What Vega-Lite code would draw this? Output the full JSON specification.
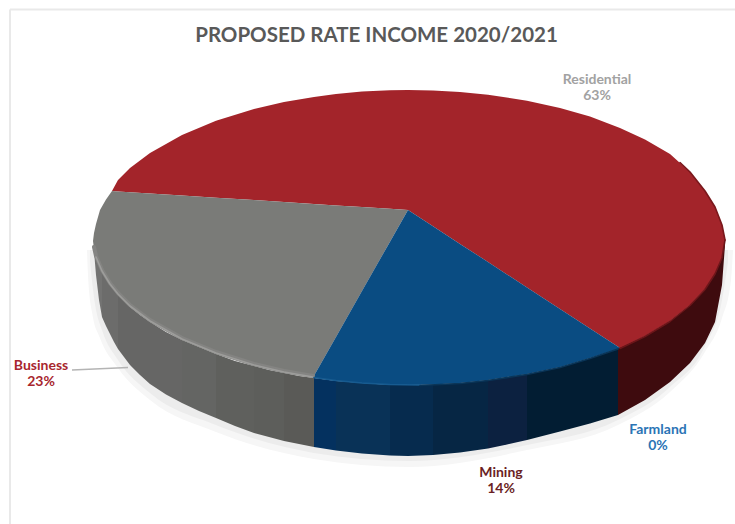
{
"$schema":"https://vega.github.io/schema/vega-lite/v6.json",
"width":735,"height":524,"padding":0,"autosize":"none","background":"white",
"title":{"text":"PROPOSED RATE INCOME 2020/2021","anchor":"middle","orient":"top","offset":-46,"font":"Lato","fontSize":20.5,"fontWeight":700,"color":"#595959","dx":9},
"config":{"view":{"stroke":null}},
"datasets":{
"frame":[
{"part":"Frame","x":10,"top":9.5,"x2":735,"bottom":9.5},
{"part":"Frame","x":10,"top":9.5,"x2":10,"bottom":524}],
"leader":[{"part":"Leader","x":72,"top":370,"x2":128,"bottom":367.5}],
"shadow":[
{"part":"Shadow outer","x":87,"top":250,"bottom":250},{"part":"Shadow outer","x":88,"top":250,"bottom":275},{"part":"Shadow outer","x":92,"top":250,"bottom":312},{"part":"Shadow outer","x":100,"top":250,"bottom":338},{"part":"Shadow outer","x":118,"top":250,"bottom":368},{"part":"Shadow outer","x":150,"top":250,"bottom":400},{"part":"Shadow outer","x":216,"top":250,"bottom":432},{"part":"Shadow outer","x":314,"top":250,"bottom":459},{"part":"Shadow outer","x":409,"top":250,"bottom":467},{"part":"Shadow outer","x":527,"top":250,"bottom":450},{"part":"Shadow outer","x":618,"top":250,"bottom":425},{"part":"Shadow outer","x":670,"top":250,"bottom":392},{"part":"Shadow outer","x":705,"top":250,"bottom":352},{"part":"Shadow outer","x":722,"top":250,"bottom":318},{"part":"Shadow outer","x":731,"top":250,"bottom":280},{"part":"Shadow outer","x":733,"top":250,"bottom":250},
{"part":"Shadow inner","x":90,"top":250,"bottom":262},{"part":"Shadow inner","x":95,"top":250,"bottom":304},{"part":"Shadow inner","x":102,"top":250,"bottom":330},{"part":"Shadow inner","x":118,"top":250,"bottom":360},{"part":"Shadow inner","x":150,"top":250,"bottom":393},{"part":"Shadow inner","x":216,"top":250,"bottom":425},{"part":"Shadow inner","x":314,"top":250,"bottom":453},{"part":"Shadow inner","x":409,"top":250,"bottom":461},{"part":"Shadow inner","x":527,"top":250,"bottom":445},{"part":"Shadow inner","x":618,"top":250,"bottom":420},{"part":"Shadow inner","x":670,"top":250,"bottom":387},{"part":"Shadow inner","x":705,"top":250,"bottom":346},{"part":"Shadow inner","x":722,"top":250,"bottom":300},{"part":"Shadow inner","x":728,"top":250,"bottom":262}],
"sides":[
{"part":"Business side 1","x":94,"top":245,"bottom":251},{"part":"Business side 1","x":96,"top":258,"bottom":275},{"part":"Business side 1","x":99,"top":266,"bottom":300},{"part":"Business side 1","x":102,"top":270,"bottom":317},
{"part":"Business side 2","x":102,"top":270,"bottom":317},{"part":"Business side 2","x":106,"top":278,"bottom":326},{"part":"Business side 2","x":110,"top":285,"bottom":334},{"part":"Business side 2","x":114,"top":290,"bottom":342},{"part":"Business side 2","x":118,"top":295,"bottom":349},
{"part":"Business side 3","x":118,"top":295,"bottom":349},{"part":"Business side 3","x":124,"top":301,"bottom":357},{"part":"Business side 3","x":130,"top":307,"bottom":365},{"part":"Business side 3","x":140,"top":315,"bottom":375},{"part":"Business side 3","x":150,"top":322,"bottom":384},{"part":"Business side 3","x":166,"top":332,"bottom":394.5},{"part":"Business side 3","x":182,"top":340,"bottom":403},
{"part":"Business side 4","x":182,"top":340,"bottom":403},{"part":"Business side 4","x":199,"top":347,"bottom":411},{"part":"Business side 4","x":216,"top":354,"bottom":418},
{"part":"Business side 5","x":216,"top":354,"bottom":418},{"part":"Business side 5","x":235,"top":361,"bottom":426},{"part":"Business side 5","x":254,"top":366,"bottom":433},
{"part":"Business side 6","x":254,"top":366,"bottom":433},{"part":"Business side 6","x":269,"top":370,"bottom":437},{"part":"Business side 6","x":284,"top":373,"bottom":441},
{"part":"Business side 7","x":284,"top":373,"bottom":441},{"part":"Business side 7","x":299,"top":376,"bottom":444},{"part":"Business side 7","x":314,"top":378,"bottom":447},
{"part":"Mining side 1","x":314,"top":378,"bottom":447},{"part":"Mining side 1","x":336,"top":381,"bottom":450.5},
{"part":"Mining side 2","x":336,"top":381,"bottom":450.5},{"part":"Mining side 2","x":362,"top":383,"bottom":453.5},{"part":"Mining side 2","x":390,"top":385,"bottom":455.5},
{"part":"Mining side 3","x":390,"top":385,"bottom":455.5},{"part":"Mining side 3","x":408,"top":385,"bottom":456},{"part":"Mining side 3","x":433,"top":384.5,"bottom":455},
{"part":"Mining side 4","x":433,"top":384.5,"bottom":455},{"part":"Mining side 4","x":460,"top":383,"bottom":452.5},{"part":"Mining side 4","x":488,"top":380,"bottom":448.5},
{"part":"Mining side 5","x":488,"top":380,"bottom":448.5},{"part":"Mining side 5","x":507,"top":377,"bottom":444.5},{"part":"Mining side 5","x":527,"top":374,"bottom":440},
{"part":"Mining side 6","x":527,"top":374,"bottom":440},{"part":"Mining side 6","x":560,"top":367,"bottom":431.5},{"part":"Mining side 6","x":590,"top":358,"bottom":423.5},{"part":"Mining side 6","x":618,"top":348,"bottom":415},
{"part":"Residential side","x":618,"top":348,"bottom":415},{"part":"Residential side","x":645,"top":336,"bottom":400},{"part":"Residential side","x":670,"top":321,"bottom":382},{"part":"Residential side","x":690,"top":305,"bottom":363},{"part":"Residential side","x":705,"top":289,"bottom":343},{"part":"Residential side","x":715,"top":274,"bottom":322},{"part":"Residential side","x":722,"top":258,"bottom":285},{"part":"Residential side","x":725,"top":240,"bottom":245}],
"slices":[
{"part":"Residential","x":112,"top":191,"bottom":191},{"part":"Residential","x":118,"top":180,"bottom":191.4},{"part":"Residential","x":130,"top":168,"bottom":192.2},{"part":"Residential","x":150,"top":153,"bottom":193.4},{"part":"Residential","x":182,"top":135,"bottom":195.5},{"part":"Residential","x":216,"top":120.7,"bottom":197.7},{"part":"Residential","x":254,"top":109,"bottom":200},{"part":"Residential","x":284,"top":102,"bottom":202},{"part":"Residential","x":314,"top":97,"bottom":204},{"part":"Residential","x":336,"top":94,"bottom":205.4},{"part":"Residential","x":362,"top":91.6,"bottom":207},{"part":"Residential","x":390,"top":90.3,"bottom":208.8},{"part":"Residential","x":408,"top":90,"bottom":210},{"part":"Residential","x":433,"top":90.5,"bottom":226.3},{"part":"Residential","x":460,"top":92,"bottom":243.9},{"part":"Residential","x":488,"top":94.7,"bottom":262},{"part":"Residential","x":527,"top":100.7,"bottom":287.5},{"part":"Residential","x":560,"top":108,"bottom":309},{"part":"Residential","x":590,"top":116.6,"bottom":328.5},{"part":"Residential","x":620,"top":128,"bottom":348},{"part":"Residential","x":645,"top":139.4,"bottom":336},{"part":"Residential","x":670,"top":154,"bottom":321},{"part":"Residential","x":690,"top":172,"bottom":305},{"part":"Residential","x":705,"top":191,"bottom":289},{"part":"Residential","x":715,"top":207,"bottom":274},{"part":"Residential","x":722,"top":225,"bottom":258},{"part":"Residential","x":725,"top":240,"bottom":240},
{"part":"Business","x":93,"top":241,"bottom":241},{"part":"Business","x":94,"top":233,"bottom":249},{"part":"Business","x":96,"top":224,"bottom":258},{"part":"Business","x":100,"top":210,"bottom":268},{"part":"Business","x":106,"top":199.5,"bottom":279},{"part":"Business","x":112,"top":191,"bottom":288},{"part":"Business","x":118,"top":191.4,"bottom":295},{"part":"Business","x":130,"top":192.2,"bottom":307},{"part":"Business","x":150,"top":193.4,"bottom":322},{"part":"Business","x":182,"top":195.5,"bottom":340},{"part":"Business","x":216,"top":197.7,"bottom":354},{"part":"Business","x":254,"top":200,"bottom":366},{"part":"Business","x":284,"top":202,"bottom":373},{"part":"Business","x":313,"top":204,"bottom":377.5},{"part":"Business","x":336,"top":205.4,"bottom":337},{"part":"Business","x":362,"top":207,"bottom":291},{"part":"Business","x":390,"top":208.8,"bottom":241.7},{"part":"Business","x":408,"top":210,"bottom":210},
{"part":"Mining","x":313,"top":377.5,"bottom":377.5},{"part":"Mining","x":336,"top":337,"bottom":381},{"part":"Mining","x":362,"top":291,"bottom":383},{"part":"Mining","x":390,"top":241.7,"bottom":385},{"part":"Mining","x":408,"top":210,"bottom":385},{"part":"Mining","x":433,"top":226.3,"bottom":384.5},{"part":"Mining","x":460,"top":243.9,"bottom":383},{"part":"Mining","x":488,"top":262,"bottom":380},{"part":"Mining","x":527,"top":287.5,"bottom":374},{"part":"Mining","x":560,"top":309,"bottom":367},{"part":"Mining","x":590,"top":328.5,"bottom":358},{"part":"Mining","x":620,"top":348,"bottom":348}],
"bevel":[
{"part":"Business bevel","x":94,"top":247},{"part":"Business bevel","x":96,"top":256},{"part":"Business bevel","x":102,"top":270},{"part":"Business bevel","x":110,"top":283},{"part":"Business bevel","x":118,"top":293},{"part":"Business bevel","x":130,"top":305},{"part":"Business bevel","x":150,"top":320},{"part":"Business bevel","x":182,"top":338},{"part":"Business bevel","x":216,"top":352},{"part":"Business bevel","x":254,"top":364},{"part":"Business bevel","x":284,"top":371},{"part":"Business bevel","x":313,"top":376}],
"rims":[
{"part":"Business rim","x":96,"top":257},{"part":"Business rim","x":102,"top":271},{"part":"Business rim","x":110,"top":284},{"part":"Business rim","x":118,"top":294},{"part":"Business rim","x":130,"top":306},{"part":"Business rim","x":150,"top":321},{"part":"Business rim","x":182,"top":339},{"part":"Business rim","x":216,"top":353},{"part":"Business rim","x":254,"top":365},{"part":"Business rim","x":284,"top":372},{"part":"Business rim","x":313,"top":377},
{"part":"Mining rim","x":314,"top":377.5},{"part":"Mining rim","x":336,"top":380.5},{"part":"Mining rim","x":362,"top":383},{"part":"Mining rim","x":390,"top":384.5},{"part":"Mining rim","x":420,"top":385},
{"part":"Mining edge","x":420,"top":385.5},{"part":"Mining edge","x":460,"top":383.5},{"part":"Mining edge","x":488,"top":380.5},{"part":"Mining edge","x":527,"top":374.5},{"part":"Mining edge","x":560,"top":367.5},{"part":"Mining edge","x":590,"top":358.5},{"part":"Mining edge","x":618,"top":349},
{"part":"Residential edge","x":620,"top":348.5},{"part":"Residential edge","x":645,"top":336.5},{"part":"Residential edge","x":670,"top":321.5},{"part":"Residential edge","x":690,"top":305.5},{"part":"Residential edge","x":705,"top":289.5},{"part":"Residential edge","x":715,"top":274},{"part":"Residential edge","x":722,"top":258},{"part":"Residential edge","x":725,"top":240},
{"part":"Residential outer edge","x":680,"top":162.5},{"part":"Residential outer edge","x":690,"top":172},{"part":"Residential outer edge","x":705,"top":191},{"part":"Residential outer edge","x":715,"top":207},{"part":"Residential outer edge","x":722,"top":225},{"part":"Residential outer edge","x":725,"top":240}],
"labels":[
{"part":"Residential label","x":597,"top":80,"text":"Residential"},{"part":"Residential label","x":597,"top":96,"text":"63%"},
{"part":"Business label","x":41,"top":366,"text":"Business"},{"part":"Business label","x":41,"top":382,"text":"23%"},
{"part":"Mining label","x":501,"top":473,"text":"Mining"},{"part":"Mining label","x":501,"top":489,"text":"14%"},
{"part":"Farmland label","x":658,"top":430,"text":"Farmland"},{"part":"Farmland label","x":658,"top":446,"text":"0%"}]
},
"encoding":{
"x":{"field":"x","type":"quantitative","axis":null,"scale":{"domain":[0,735],"nice":false,"zero":false}},
"y":{"field":"top","type":"quantitative","axis":null,"stack":null,"scale":{"domain":[524,0],"nice":false,"zero":false}},
"color":{"field":"part","type":"nominal","legend":null,"scale":{
"domain":["Frame","Leader","Shadow outer","Shadow inner","Business side 1","Business side 2","Business side 3","Business side 4","Business side 5","Business side 6","Business side 7","Mining side 1","Mining side 2","Mining side 3","Mining side 4","Mining side 5","Mining side 6","Residential side","Residential","Business","Mining","Business bevel","Business rim","Mining rim","Mining edge","Residential edge","Residential outer edge","Residential label","Business label","Mining label","Farmland label"],
"range":["#e9e9e9","#b4b4b4","#f6f6f6","#ececec","#737372","#6c6c6b","#666665","#646563","#5f605d","#5d5e5b","#5a5a57","#04315f","#093257","#062b4e","#062644","#0c2140","#021d33","#3e0b0e","#a3242a","#7a7b78","#0a4c82","#848482","#9d9d9b","#175b90","#0a3558","#6d1519","#7a181c","#a2a2a2","#a8262e","#6b1f24","#2a74b5"]}}
},
"layer":[
{"data":{"name":"frame"},"mark":{"type":"rule","strokeWidth":2},"encoding":{"x2":{"field":"x2"},"y2":{"field":"bottom"}}},
{"data":{"name":"shadow"},"mark":{"type":"area","interpolate":"monotone"},"encoding":{"y2":{"field":"bottom"}}},
{"data":{"name":"sides"},"mark":{"type":"area"},"encoding":{"y2":{"field":"bottom"}}},
{"data":{"name":"slices"},"mark":{"type":"area"},"encoding":{"y2":{"field":"bottom"}}},
{"data":{"name":"bevel"},"mark":{"type":"line","strokeWidth":4,"strokeCap":"round","strokeJoin":"round"}},
{"data":{"name":"rims"},"mark":{"type":"line","strokeWidth":1.6,"strokeCap":"round","strokeJoin":"round"}},
{"data":{"name":"leader"},"mark":{"type":"rule","strokeWidth":1.5},"encoding":{"x2":{"field":"x2"},"y2":{"field":"bottom"}}},
{"data":{"name":"labels"},"mark":{"type":"text","font":"Lato","fontSize":14,"fontWeight":700,"align":"center","baseline":"middle"},"encoding":{"text":{"field":"text"}}}
]
}
